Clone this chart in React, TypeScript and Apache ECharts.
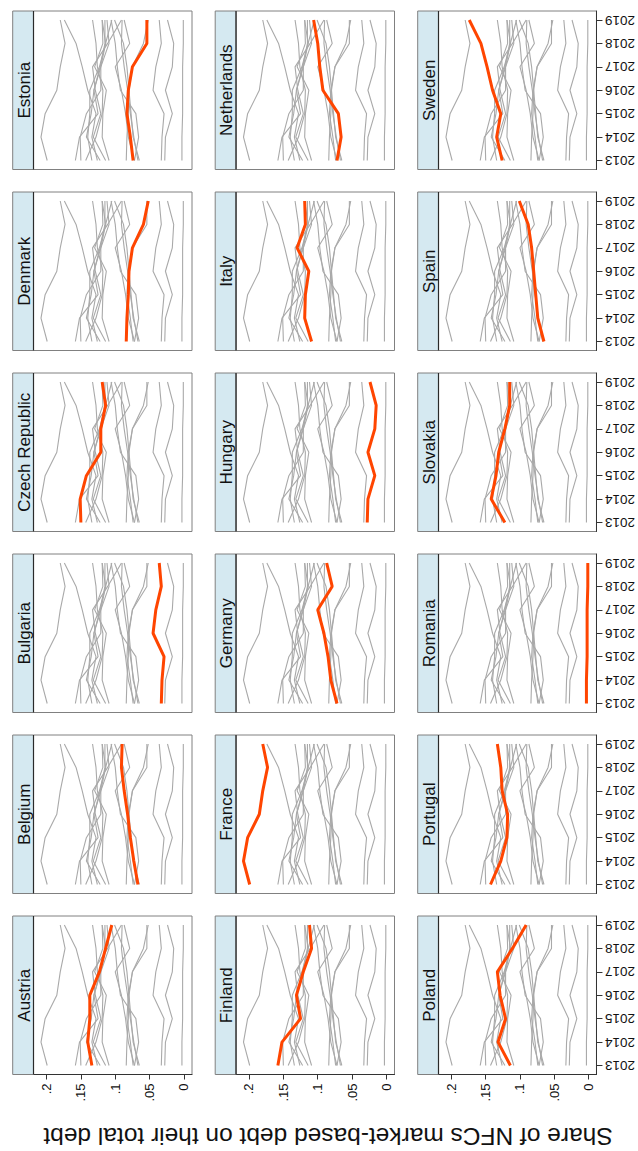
import React, { useEffect, useRef } from "react";
import * as echarts from "echarts";

const years = [2013, 2014, 2015, 2016, 2017, 2018, 2019];
const yearLabels = ["2013", "2014", "2015", "2016", "2017", "2018", "2019"];
const shareTicks = [0, 0.05, 0.1, 0.15, 0.2];
const shareTickLabels = ["0", ".05", ".1", ".15", ".2"];
const axisTitle = "Share of NFCs market-based debt on their total debt";

const countries = [
  "Austria", "Belgium", "Bulgaria", "Czech Republic", "Denmark", "Estonia",
  "Finland", "France", "Germany", "Hungary", "Italy", "Netherlands",
  "Poland", "Portugal", "Romania", "Slovakia", "Spain", "Sweden",
];

const austria = [0.134, 0.14, 0.137, 0.137, 0.123, 0.114, 0.105];
const belgium = [0.067, 0.073, 0.078, 0.082, 0.087, 0.091, 0.09];
const bulgaria = [0.033, 0.032, 0.029, 0.045, 0.041, 0.033, 0.036];
const czechRepublic = [0.15, 0.151, 0.142, 0.121, 0.121, 0.114, 0.119];
const denmark = [0.084, 0.083, 0.081, 0.08, 0.075, 0.059, 0.052];
const estonia = [0.074, 0.078, 0.083, 0.081, 0.075, 0.054, 0.054];
const finland = [0.158, 0.152, 0.125, 0.131, 0.121, 0.109, 0.112];
const france = [0.199, 0.208, 0.202, 0.185, 0.18, 0.173, 0.18];
const germany = [0.072, 0.081, 0.085, 0.091, 0.1, 0.079, 0.087];
const hungary = [0.028, 0.027, 0.017, 0.027, 0.017, 0.015, 0.024];
const italy = [0.109, 0.119, 0.118, 0.113, 0.13, 0.118, 0.119];
const netherlands = [0.072, 0.066, 0.07, 0.0925, 0.097, 0.1, 0.106];
const poland = [0.114, 0.132, 0.121, 0.129, 0.133, 0.111, 0.091];
const portugal = [0.143, 0.128, 0.119, 0.118, 0.126, 0.128, 0.133];
const romania = [0.003, 0.003, 0.002, 0.002, 0.002, 0.001, 0.001];
const slovakia = [0.122, 0.142, 0.135, 0.131, 0.122, 0.115, 0.115];
const spain = [0.065, 0.074, 0.077, 0.08, 0.083, 0.088, 0.101];
const sweden = [0.126, 0.134, 0.128, 0.14, 0.148, 0.157, 0.174];

const values = [
  austria, belgium, bulgaria, czechRepublic, denmark, estonia,
  finland, france, germany, hungary, italy, netherlands,
  poland, portugal, romania, slovakia, spain, sweden,
];

const FONT = "'Liberation Sans', Arial, Helvetica, sans-serif";

function buildOption() {
  const colLefts = [33.5, 236, 438.5];
  const rowTops = [11, 192, 373, 554, 735, 916];
  const W = 158.5;
  const H = 158.5;
  const stripW = 20.8;
  const xMax = 0.2189;
  const xMin = 0.2189 - W / 687.5;
  const yPad = 9 / ((H - 18) / 6);

  const grids: any[] = [];
  const xAxes: any[] = [];
  const yAxes: any[] = [];
  const series: any[] = [];
  const graphics: any[] = [];

  countries.forEach((name, i) => {
    const col = Math.floor(i / 6);
    const row = 5 - (i % 6);
    const left = colLefts[col];
    const top = rowTops[row];
    const bottomRow = row === 5;
    const rightCol = col === 2;

    grids.push({
      left,
      top,
      width: W,
      height: H,
      show: true,
      borderColor: "#808080",
      borderWidth: 1,
      backgroundColor: "#ffffff",
    });

    xAxes.push({
      type: "value",
      gridIndex: i,
      inverse: true,
      min: xMin,
      max: xMax,
      splitLine: { show: false },
      axisLine: { show: bottomRow, onZero: false, lineStyle: { color: "#333", width: 1 } },
      axisTick: {
        show: bottomRow,
        customValues: shareTicks,
        length: 5,
        lineStyle: { color: "#333", width: 1 },
      },
      axisLabel: {
        show: bottomRow,
        customValues: shareTicks,
        rotate: 90,
        margin: 9,
        fontSize: 13,
        color: "#111",
        fontFamily: FONT,
        formatter: (v: number) => {
          let best = 0;
          shareTicks.forEach((t, k) => {
            if (Math.abs(t - v) < Math.abs(shareTicks[best] - v)) best = k;
          });
          return shareTickLabels[best];
        },
      },
    });

    yAxes.push({
      type: "value",
      gridIndex: i,
      position: "right",
      min: 2013 - yPad,
      max: 2019 + yPad,
      splitLine: { show: false },
      axisLine: { show: rightCol, onZero: false, lineStyle: { color: "#333", width: 1 } },
      axisTick: {
        show: rightCol,
        customValues: years,
        length: 6,
        lineStyle: { color: "#333", width: 1 },
      },
      axisLabel: {
        show: rightCol,
        customValues: years,
        rotate: 180,
        margin: 8.5,
        fontSize: 13.5,
        color: "#111",
        fontFamily: FONT,
        formatter: (v: number) => {
          const k = years.indexOf(Math.round(v));
          return k >= 0 ? yearLabels[k] : "";
        },
      },
    });

    values.forEach((vals, j) => {
      if (j === i) return;
      series.push({
        type: "line",
        xAxisIndex: i,
        yAxisIndex: i,
        data: vals.map((v, k) => [v, years[k]]),
        symbol: "none",
        clip: false,
        silent: true,
        z: 2,
        lineStyle: { color: "#a9a9a9", width: 1.1 },
      });
    });
    series.push({
      type: "line",
      xAxisIndex: i,
      yAxisIndex: i,
      data: values[i].map((v, k) => [v, years[k]]),
      symbol: "none",
      clip: false,
      silent: true,
      z: 3,
      lineStyle: { color: "#ff4500", width: 3 },
    });

    graphics.push({
      type: "rect",
      shape: { x: left - stripW, y: top, width: stripW, height: H },
      style: { fill: "#d5e9f1", stroke: "#808080", lineWidth: 1 },
      z: 10,
    });
    graphics.push({
      type: "line",
      shape: { x1: left, y1: top, x2: left, y2: top + H },
      style: { stroke: "#2a2a2a", lineWidth: 1.2 },
      z: 11,
    });
    graphics.push({
      type: "text",
      x: left - stripW / 2 + 1,
      y: top + H / 2,
      rotation: Math.PI / 2,
      style: {
        text: name,
        fontSize: 17,
        fontFamily: FONT,
        fill: "#111",
        align: "center",
        verticalAlign: "middle",
      },
      z: 12,
    });
  });

  graphics.push({
    type: "text",
    x: 328,
    y: 1136,
    rotation: Math.PI,
    style: {
      text: axisTitle,
      fontSize: 24.5,
      fontFamily: FONT,
      fill: "#111",
      align: "center",
      verticalAlign: "middle",
    },
    z: 12,
  });

  return {
    animation: false,
    backgroundColor: "#ffffff",
    textStyle: { fontFamily: FONT },
    grid: grids,
    xAxis: xAxes,
    yAxis: yAxes,
    series,
    graphic: graphics,
  };
}

export default function App() {
  const ref = useRef<HTMLDivElement>(null);
  useEffect(() => {
    document.body.style.margin = "0";
    if (!ref.current) return;
    const chart = echarts.init(ref.current, undefined, { renderer: "svg" });
    chart.setOption(buildOption() as any);
    return () => chart.dispose();
  }, []);
  return <div ref={ref} style={{ width: 638, height: 1151 }} />;
}
